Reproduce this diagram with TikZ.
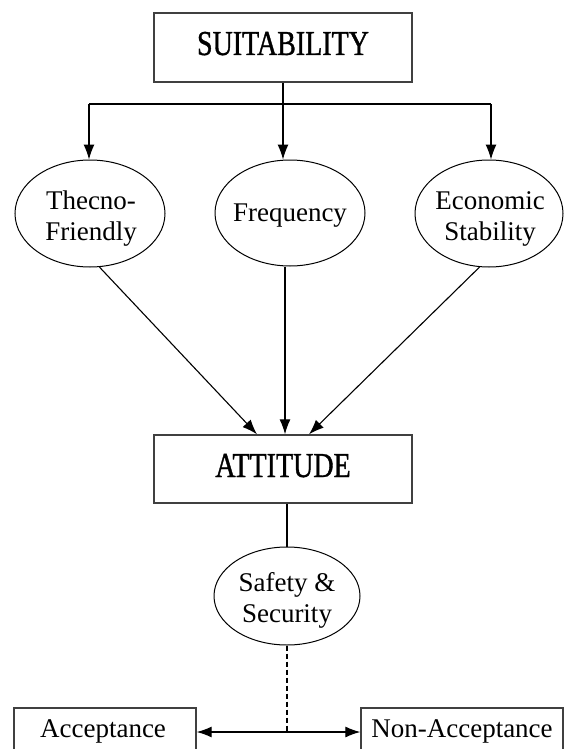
\documentclass[tikz,border=0pt]{standalone}
\usepackage{fontspec}
\setmainfont{Liberation Serif}
\newfontfamily\titlefont[FakeStretch=0.8,FakeBold=1]{Liberation Serif}
\usetikzlibrary{arrows.meta,shapes.geometric,calc}
\begin{document}
\begin{tikzpicture}[x=1pt,y=-1pt,
  box/.style={draw=black!75,line width=1.4pt,inner sep=0pt,rectangle},
  oval/.style={draw=black,ellipse,line width=1pt,inner sep=0pt},
  lbl/.style={inner sep=0pt,align=center,font=\fontsize{27}{31}\selectfont},
  ttl/.style={inner sep=0pt,anchor=base,font=\titlefont\fontsize{35}{40}\selectfont},
  conn/.style={line width=1.1pt},
  tip/.tip={Latex[length=15pt,width=11pt]},
  arr/.style={conn,-tip}]
\useasboundingbox (0,0) rectangle (565,749);
\clip (0,0) rectangle (565,749);
% top box
\node[box,minimum width=258pt,minimum height=69pt] (suit) at (283,47.5) {};
\node[ttl] (suitt) at (283,55) {SUITABILITY};
% ellipses
\node[oval,minimum width=150pt,minimum height=107pt] (e1) at (90,213.5) {};
\node[lbl] (t1) at (91,219) {Thecno-\\Friendly};
\node[oval,minimum width=150pt,minimum height=106pt] (e2) at (290,213) {};
\node[lbl] (t2) at (290,216) {Frequency};
\node[oval,minimum width=148pt,minimum height=107pt] (e3) at (489,213.5) {};
\node[lbl] (t3) at (490,219) {Economic\\Stability};
% distribution
\coordinate (jl) at (89,104);
\coordinate (jm) at (283,104);
\coordinate (jr) at (491,104);
\draw[conn] (suit.south) -- (jm);
\draw[conn] (jl) -- (jr);
\draw[arr] (jl) -- (jl |- e1.north);
\draw[arr] (jm) -- (jm |- e2.north);
\draw[arr] (jr) -- (jr |- e3.north);
% attitude
\node[box,minimum width=258pt,minimum height=68pt] (att) at (283,469) {};
\node[ttl] (attt) at (283,477) {ATTITUDE};
\coordinate (a1) at ($(att.north)+(-26,0)$);
\coordinate (a2) at ($(att.north)+(2,0)$);
\coordinate (a3) at ($(att.north)+(26,0)$);
\draw[arr] (e1.-80) -- (a1);
\draw[arr] (a2 |- e2.south) -- (a2);
\draw[arr] (e3.-100) -- (a3);
% safety
\node[oval,minimum width=146pt,minimum height=98pt] (e4) at (287,596) {};
\node[lbl] (t4) at (287,600) {Safety \&\\Security};
\draw[conn] (e4.north |- att.south) -- (e4.north);
% bottom
\node[box,minimum width=182pt,minimum height=50pt] (acc) at (105,733) {};
\node[lbl,anchor=base] (acct) at (103,737) {Acceptance};
\node[box,minimum width=202pt,minimum height=50pt] (non) at (462,733) {};
\node[lbl,anchor=base] (nont) at (462,737) {Non-Acceptance};
\coordinate (mid) at (e4.south |- 0,732);
\draw[conn,dashed,dash pattern=on 5pt off 3pt] (e4.south) -- (mid);
\draw[conn,tip-tip] (acc.east |- mid) -- (non.west |- mid);
\end{tikzpicture}
\end{document}
